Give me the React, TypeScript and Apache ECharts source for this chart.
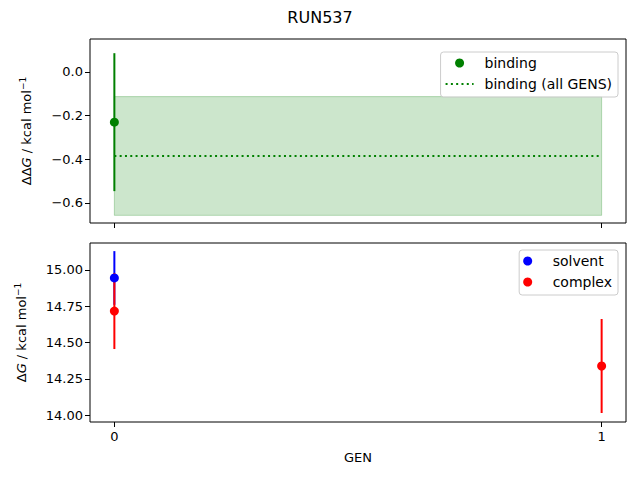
import { useEffect, useRef } from "react";
import * as echarts from "echarts";

// GEN index per point, value and error (kcal/mol)
const bindingGens = [0];
const bindingValues = [-0.23];
const bindingErrors = [0.316];
const bindingAllValue = -0.385;
const bindingAllError = 0.272;
const bindingAllSpan = [0, 1];

const solventGens = [0];
const solventValues = [14.945];
const solventErrors = [0.185];

const complexGens = [0, 1];
const complexValues = [14.717, 14.338];
const complexErrors = [0.262, 0.324];

const genTicks = [0, 1];
const topTicks = [-0.6, -0.4, -0.2, 0.0];
const bottomTicks = [14.0, 14.25, 14.5, 14.75, 15.0];

const FONT = "DejaVu Sans";

const minus = (s: string) => s.replace("-", "\u2212");

function errorSeries(name: string, gens: number[], vals: number[], errs: number[], color: string, idx: number) {
  return {
    name,
    type: "custom",
    xAxisIndex: idx,
    yAxisIndex: idx,
    data: gens.map((g, i) => [g, vals[i] - errs[i], vals[i] + errs[i]]),
    encode: { x: 0, y: [1, 2] },
    renderItem: (_: any, api: any) => {
      const a = api.coord([api.value(0), api.value(1)]);
      const b = api.coord([api.value(0), api.value(2)]);
      return {
        type: "line",
        shape: { x1: a[0], y1: a[1], x2: b[0], y2: b[1] },
        style: { stroke: color, lineWidth: 2 },
      };
    },
    silent: true,
  };
}

function pointSeries(name: string, gens: number[], vals: number[], color: string, idx: number) {
  return {
    name,
    type: "scatter",
    xAxisIndex: idx,
    yAxisIndex: idx,
    symbol: "circle",
    symbolSize: 9,
    itemStyle: { color, opacity: 1 },
    data: gens.map((g, i) => [g, vals[i]]),
  };
}

export default function App() {
  const ref = useRef<HTMLDivElement>(null);

  useEffect(() => {
    document.body.style.margin = "0";
    if (!ref.current) return;
    const chart = echarts.init(ref.current, null, { renderer: "svg" });

    const xAxisBase = {
      type: "value",
      min: -0.05,
      max: 1.05,
      axisLine: { show: false, onZero: false },
      splitLine: { show: false },
      axisTick: { show: true, customValues: genTicks, length: 5, lineStyle: { color: "#000" } },
    };

    const yAxisBase = {
      type: "value",
      axisLine: { show: false, onZero: false },
      splitLine: { show: false },
      nameLocation: "middle",
      nameRotate: 90,
    };

    const richY = {
      n: { fontFamily: FONT, fontSize: 13, color: "#000" },
      i: { fontFamily: FONT, fontSize: 13, color: "#000", fontStyle: "italic" },
      sup: { fontFamily: FONT, fontSize: 9, color: "#000", padding: [0, 0, 8, 0] },
    };

    const legendBase = {
      orient: "vertical",
      align: "left",
      right: 22,
      backgroundColor: "rgba(255,255,255,0.8)",
      borderColor: "#cccccc",
      borderWidth: 1,
      borderRadius: 3,
      padding: [3, 6, 5, 4],
      itemGap: 5,
      itemWidth: 28,
      itemHeight: 9,
      textStyle: { fontFamily: FONT, fontSize: 14, color: "#000", lineHeight: 16, padding: [0, 0, 0, 6] },
    };

    chart.setOption({
      animation: false,
      title: {
        text: "RUN537",
        left: "center",
        top: 4,
        textStyle: { fontFamily: FONT, fontSize: 16, fontWeight: "normal", color: "#000" },
      },
      grid: [
        { left: 90, top: 39, width: 536, height: 184, show: true, borderColor: "#000", borderWidth: 1, outerBoundsMode: "none" },
        { left: 90, top: 243, width: 536, height: 179, show: true, borderColor: "#000", borderWidth: 1, outerBoundsMode: "none" },
      ],
      xAxis: [
        { ...xAxisBase, gridIndex: 0, axisLabel: { show: false } },
        {
          ...xAxisBase,
          gridIndex: 1,
          name: "GEN",
          nameLocation: "middle",
          nameGap: 29,
          nameTextStyle: { fontFamily: FONT, fontSize: 13, color: "#000" },
          axisLabel: { show: true, customValues: genTicks, fontFamily: FONT, fontSize: 13, color: "#000", margin: 8 },
        },
      ],
      yAxis: [
        {
          ...yAxisBase,
          gridIndex: 0,
          min: -0.692,
          max: 0.151,
          axisTick: { show: true, customValues: topTicks, length: 5, lineStyle: { color: "#000" } },
          axisLabel: {
            customValues: topTicks,
            formatter: (v: number) => minus(v.toFixed(1)),
            fontFamily: FONT,
            fontSize: 13,
            color: "#000",
            margin: 7,
          },
          name: "{n|\u0394\u0394}{i|G}{n| / kcal mol}{sup|\u22121}",
          nameGap: 55,
          nameTextStyle: { rich: richY },
        },
        {
          ...yAxisBase,
          gridIndex: 1,
          min: 13.952,
          max: 15.186,
          axisTick: { show: true, customValues: bottomTicks, length: 5, lineStyle: { color: "#000" } },
          axisLabel: {
            customValues: bottomTicks,
            formatter: (v: number) => v.toFixed(2),
            fontFamily: FONT,
            fontSize: 13,
            color: "#000",
            margin: 7,
          },
          name: "{n|\u0394}{i|G}{n| / kcal mol}{sup|\u22121}",
          nameGap: 60,
          nameTextStyle: { rich: richY },
        },
      ],
      legend: [
        {
          ...legendBase,
          top: 52,
          data: [
            { name: "binding", icon: "circle" },
            { name: "binding (all GENS)", itemStyle: { opacity: 0 } },
          ],
        },
        { ...legendBase, top: 250, data: [{ name: "solvent", icon: "circle" }, { name: "complex", icon: "circle" }] },
      ],
      series: [
        {
          name: "binding (all GENS)",
          type: "line",
          xAxisIndex: 0,
          yAxisIndex: 0,
          symbol: "none",
          data: bindingAllSpan.map((g) => [g, bindingAllValue]),
          lineStyle: { color: "#008000", width: 2, type: [2, 3.3] },
          itemStyle: { color: "#008000" },
          markArea: {
            silent: true,
            itemStyle: { color: "rgba(0,128,0,0.2)", borderColor: "rgba(0,128,0,0.25)", borderWidth: 1 },
            data: [[
              { coord: [bindingAllSpan[0], bindingAllValue - bindingAllError] },
              { coord: [bindingAllSpan[1], bindingAllValue + bindingAllError] },
            ]],
          },
        },
        errorSeries("binding-err", bindingGens, bindingValues, bindingErrors, "#008000", 0),
        pointSeries("binding", bindingGens, bindingValues, "#008000", 0),
        errorSeries("solvent-err", solventGens, solventValues, solventErrors, "#0000ff", 1),
        pointSeries("solvent", solventGens, solventValues, "#0000ff", 1),
        errorSeries("complex-err", complexGens, complexValues, complexErrors, "#ff0000", 1),
        pointSeries("complex", complexGens, complexValues, "#ff0000", 1),
      ],
    });

    return () => {
      chart.dispose();
    };
  }, []);

  return <div ref={ref} style={{ width: 640, height: 480 }} />;
}
